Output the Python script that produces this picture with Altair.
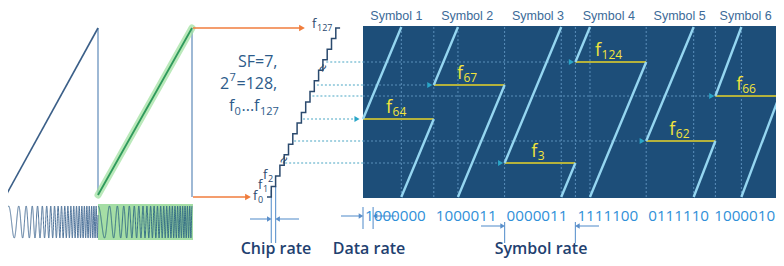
import altair as alt
import pandas as pd
import numpy as np

# ---------------- data ----------------
symbols = ["Symbol 1", "Symbol 2", "Symbol 3", "Symbol 4", "Symbol 5", "Symbol 6"]
symbol_freq = [64, 67, 3, 124, 62, 66]
bit_strings = ["1000000", "1000011", "0000011", "1111100", "0111110", "1000010"]
spreading_factor = 7
n_chips = 2 ** spreading_factor            # 128 -> f0 ... f127
stair_subs = ["0", "1", "2"]
rate_labels = ["Chip rate", "Data rate", "Symbol rate"]

# ---------------- layout (schematic pixel frame) ----------------
CW, CH = 768, 250                     # chart size (page has an 8px margin)
TOP, BOT = 27, 197
PANEL_L, PANEL_T, PANEL_B = 363, 26, 198
SYM_W = 70.8
# the schematic is not to scale: display level of each frequency index
lvl_f = [0, 3, 62, 64, 66, 67, 124, n_chips - 1]
lvl_y = [197, 163, 141, 119, 96, 85, 62, 28]
STAIR_X0, STAIR_DX, STAIR_N = 267, 4.3, 16
STAIR_DY = (197 - 28) / STAIR_N

def level(f):
    return float(np.interp(f, lvl_f, lvl_y))

def stair_x(y):
    return STAIR_X0 + ((197 - y) / STAIR_DY + 1) * STAIR_DX

starts = [PANEL_L + i * SYM_W for i in range(len(symbols))]

FONT = "Open Sans"
NAVY = "#2b4a6e"

xs = alt.Scale(domain=[8, 700, 784], range=[0, 692, CW], nice=False, zero=False)
ys = alt.Scale(domain=[8, 258], range=[0, CH], nice=False, zero=False)

# ---------------- segments ----------------
segs = []
def seg(kind, x, y, x2, y2):
    segs.append(dict(kind=kind, x=x, y=y, x2=x2, y2=y2))

# left sawtooth
seg("vert", 98, 28, 98, 195)
seg("vert", 192, 28, 192, 197)
seg("ramp1", 5, 197, 98, 28)
seg("glow", 98, 195, 192, 28)
seg("ramp2", 98, 195, 192, 28)
seg("orange", 193, 28, 300, 28)
seg("orange", 193, 197, 246, 197)

# panel chirps
arrow_pts = []
for i, (s, f) in enumerate(zip(starts, symbol_freq)):
    yf = level(f)
    tw = (yf - TOP) / (BOT - TOP) * SYM_W
    if i > 0:
        seg("grid_v", s, TOP, s, BOT)
    seg("grid_v", s + tw, TOP, s + tw, BOT)
    seg("chirp", s, yf, s + tw, TOP)
    seg("chirp", s + tw, BOT, s + SYM_W, yf)
    seg("yellow", s, yf, s + SYM_W, yf)
    sx = stair_x(yf)
    if i == 0:
        ax = PANEL_L - 6
        seg("dot_out", sx, yf, ax - 3, yf)
    else:
        ax = s - 4
        seg("dot_out", sx, yf, PANEL_L, yf)
        seg("dot_in", PANEL_L, yf, ax - 3, yf)
    arrow_pts.append(dict(x=ax, y=yf))

# rate brackets
cx1, cx2 = STAIR_X0 + STAIR_DX, STAIR_X0 + 2 * STAIR_DX
seg("rate", cx1, 190, cx1, 243)
seg("rate", cx2, 186, cx2, 243)
seg("rate", 250, 219, cx1 - 3, 219)
seg("rate", 299, 219, cx2 + 3, 219)
dx1, dx2 = PANEL_L, PANEL_L + SYM_W / spreading_factor
seg("rate", dx1, 207, dx1, 229)
seg("rate", dx2, 207, dx2, 229)
seg("rate", 341, 216, dx1 - 3, 216)
seg("rate", 396, 216, dx2 + 3, 216)
sx1, sx2 = starts[2], starts[3]
seg("rate", sx1, 222, sx1, 243)
seg("rate", sx2, 222, sx2, 243)
seg("rate", 481, 226, sx1 - 3, 226)
seg("rate", 599, 226, sx2 + 3, 226)
rate_heads_r = [dict(x=cx1 - 2, y=219), dict(x=dx1 - 2, y=216), dict(x=sx1 - 2, y=226)]
rate_heads_l = [dict(x=cx2 + 2, y=219), dict(x=dx2 + 2, y=216), dict(x=sx2 + 2, y=226)]

seg_df = pd.DataFrame(segs)

styles = {
    "vert": dict(color="#6a93bf", strokeWidth=1.3),
    "ramp1": dict(color="#3b5f88", strokeWidth=1.6),
    "glow": dict(color="#a3e2a3", strokeWidth=7, opacity=0.75, strokeCap="round"),
    "ramp2": dict(color="#2f9a5c", strokeWidth=1.8),
    "orange": dict(color="#f07d3c", strokeWidth=1.5),
    "grid_v": dict(color="#5a8fba", strokeWidth=1, strokeDash=[2, 2]),
    "dot_in": dict(color="#5a8fba", strokeWidth=1, strokeDash=[2, 2]),
    "dot_out": dict(color="#4aa6c4", strokeWidth=1.2, strokeDash=[2, 2]),
    "chirp": dict(color="#95d6f1", strokeWidth=2.4),
    "yellow": dict(color="#b5b23c", strokeWidth=2),
    "rate": dict(color="#6b9dd2", strokeWidth=1.2),
}

def enc_xy(**extra):
    return dict(x=alt.X("x:Q", scale=xs, axis=None), y=alt.Y("y:Q", scale=ys, axis=None), **extra)

layers = []

# panel background
panel_df = pd.DataFrame([dict(x=PANEL_L, y=PANEL_T, x2=784, y2=PANEL_B)])
layers.append(alt.Chart(panel_df).mark_rect(color="#1d4e79").encode(**enc_xy(x2="x2:Q", y2="y2:Q")))
# green box behind the second chirp
green_df = pd.DataFrame([dict(x=98, y=204, x2=193, y2=240)])
layers.append(alt.Chart(green_df).mark_rect(color="#8fd68f", opacity=0.8).encode(**enc_xy(x2="x2:Q", y2="y2:Q")))

# chirp waveform (illustrative linear chirp)
wave_rows = []
for part, (xa, xb, ph0) in enumerate([(6, 98, 0.45), (98, 192, np.pi / 2)]):
    t = np.linspace(0, 1, 1600)
    cyc = 6 * t + (42 - 6) * t ** 2 / 2
    yv = 222 - 16 * np.sin(2 * np.pi * cyc + ph0)
    for k, (tt, yy) in enumerate(zip(t, yv)):
        wave_rows.append(dict(x=xa + (xb - xa) * tt, y=yy, part=part, o=k))
wave_df = pd.DataFrame(wave_rows)
for part, col in [(0, "#4d7299"), (1, "#356f86")]:
    layers.append(
        alt.Chart(wave_df[wave_df.part == part]).mark_line(color=col, strokeWidth=1)
        .encode(**enc_xy(order="o:Q"))
    )

order = ["vert", "glow", "ramp1", "ramp2", "orange", "grid_v", "dot_in", "dot_out", "yellow", "chirp", "rate"]
for kind in order:
    d = seg_df[seg_df.kind == kind]
    layers.append(alt.Chart(d).mark_rule(**styles[kind]).encode(**enc_xy(x2="x2:Q", y2="y2:Q")))

# staircase
stair_rows = []
o = 0
for k in range(STAIR_N + 1):
    yk = 197 - k * STAIR_DY
    stair_rows.append(dict(x=STAIR_X0 + k * STAIR_DX, y=yk, o=o)); o += 1
    stair_rows.append(dict(x=STAIR_X0 + (k + 1) * STAIR_DX, y=yk, o=o)); o += 1
stair_df = pd.DataFrame(stair_rows)
layers.append(alt.Chart(stair_df).mark_line(color=NAVY, strokeWidth=1.5).encode(**enc_xy(order="o:Q")))

# arrowheads
def heads(rows, shape, color, size):
    return alt.Chart(pd.DataFrame(rows)).mark_point(shape=shape, filled=True, color=color, size=size, opacity=1).encode(**enc_xy())

layers.append(heads([dict(x=302, y=28), dict(x=248, y=197)], "triangle-right", "#f07d3c", 45))
layers.append(heads(arrow_pts, "triangle-right", "#2aa6c8", 35))
layers.append(heads(rate_heads_r, "triangle-right", "#5b8fca", 28))
layers.append(heads(rate_heads_l, "triangle-left", "#5b8fca", 28))

# ---------------- texts ----------------
def texts(rows, align="left", weight="normal", font=FONT):
    return alt.Chart(pd.DataFrame(rows)).mark_text(
        align=align, baseline="alphabetic", font=font, fontWeight=weight
    ).encode(**enc_xy(text="t:N", size=alt.Size("fs:Q", scale=None), color=alt.Color("c:N", scale=None)))

sym_rows, bit_rows = [], []
for s, name, bits in zip(starts, symbols, bit_strings):
    sym_rows.append(dict(x=s + SYM_W / 2 - 2, y=19.5, t=name, fs=12.5, c="#3c6a98"))
    bit_rows.append(dict(x=s + SYM_W / 2 - 3, y=221, t=bits, fs=15.2, c="#2f8fd8"))
layers.append(texts(sym_rows, "center", font="Liberation Sans"))
layers.append(texts(bit_rows, "center"))

rate_rows = [
    dict(x=276, y=254, t=rate_labels[0], fs=16, c="#1f4170"),
    dict(x=369, y=254, t=rate_labels[1], fs=16, c="#1f4170"),
    dict(x=541, y=254, t=rate_labels[2], fs=16, c="#1f4170"),
]
layers.append(texts(rate_rows, "center", 600))

left_rows = []
# frequency labels in the panel
for s, f in zip(starts, symbol_freq):
    yf = level(f)
    sub = str(f)
    total = 6 + 6.9 * len(sub)
    lx = s + 33 - total / 2
    left_rows.append(dict(x=lx, y=yf - 6, t="f", fs=18, c="#f2e43c"))
    left_rows.append(dict(x=lx + 6.5, y=yf - 3, t=sub, fs=12, c="#f2e43c"))
# staircase labels
for k, sub in enumerate(stair_subs):
    yk = 197 - k * STAIR_DY
    lx = 253 + 5 * k
    left_rows.append(dict(x=lx, y=yk + 3, t="f", fs=13, c=NAVY))
    left_rows.append(dict(x=lx + 5, y=yk + 6, t=sub, fs=9, c=NAVY))
left_rows.append(dict(x=312, y=28, t="f", fs=13, c=NAVY))
left_rows.append(dict(x=317, y=31, t=str(n_chips - 1), fs=9, c=NAVY))
# SF text
TC = "#2d5b8a"
left_rows += [
    dict(x=238, y=67, t=f"SF={spreading_factor},", fs=16, c=TC),
    dict(x=220, y=89, t="2", fs=16, c=TC),
    dict(x=229.5, y=81, t=str(spreading_factor), fs=11, c=TC),
    dict(x=236.5, y=89, t=f"={n_chips},", fs=16, c=TC),
    dict(x=229, y=111, t="f", fs=16, c=TC),
    dict(x=234.5, y=115, t="0", fs=11, c=TC),
    dict(x=241.5, y=111, t="...f", fs=16, c=TC),
    dict(x=260, y=115, t=str(n_chips - 1), fs=11, c=TC),
]
layers.append(texts(left_rows, "left"))

# break marks on staircase
brk = pd.DataFrame([dict(x=284, y=160, t="≈"), dict(x=323, y=68, t="≈")])
layers.append(
    alt.Chart(brk).mark_text(font=FONT, fontSize=15, angle=300, color=NAVY, align="center", baseline="middle")
    .encode(**enc_xy(text="t:N"))
)

chart = (
    alt.layer(*layers)
    .properties(width=CW, height=CH, autosize=alt.AutoSizeParams(type="none"), padding=0,
                background="white")
    .configure_view(stroke=None)
)
chart.save("out.html", embed_options={"renderer": "svg", "actions": False})
